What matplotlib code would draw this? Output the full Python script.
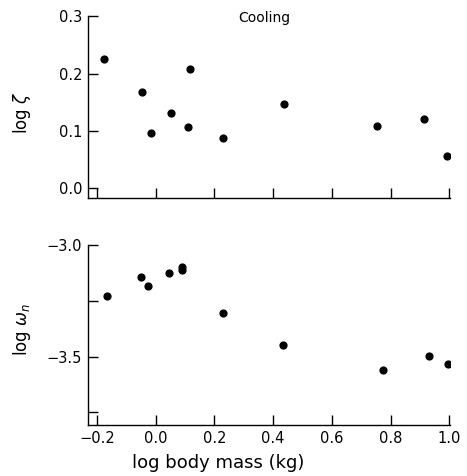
import matplotlib
matplotlib.use("Agg")
import matplotlib.pyplot as plt
from matplotlib.ticker import FixedLocator

# Data
mass_top = [-0.177, -0.048, -0.015, 0.053, 0.111, 0.116, 0.231, 0.438, 0.754, 0.915, 0.993]
log_zeta = [0.226, 0.168, 0.096, 0.131, 0.106, 0.208, 0.087, 0.147, 0.108, 0.120, 0.056]

mass_bot = [-0.166, -0.049, -0.027, 0.045, 0.089, 0.091, 0.228, 0.435, 0.775, 0.930, 0.994]
log_omega = [-3.230, -3.142, -3.184, -3.124, -3.097, -3.112, -3.306, -3.450, -3.562, -3.499, -3.532]

x_ticks = [-0.2, 0.0, 0.2, 0.4, 0.6, 0.8, 1.0]
x_labels = ["\u22120.2", "0.0", "0.2", "0.4", "0.6", "0.8", "1.0"]
top_yticks = [0.0, 0.1, 0.2, 0.3]
top_ylabels = ["0.0", "0.1", "0.2", "0.3"]
bot_yticks = [-3.5, -3.0]
bot_ylabels = ["\u22123.5", "\u22123.0"]
bot_minor = [-3.75, -3.25]

plt.rcParams['font.family'] = ['DejaVu Sans']
fig = plt.figure(figsize=(4.67, 4.76), dpi=100)

ax1 = fig.add_axes([0.188, 0.584, 0.776, 0.382])
ax2 = fig.add_axes([0.188, 0.107, 0.776, 0.378])

for ax in (ax1, ax2):
    ax.spines['top'].set_visible(False)
    ax.spines['right'].set_visible(False)
    ax.spines['left'].set_linewidth(1.0)
    ax.spines['bottom'].set_linewidth(1.0)
    ax.set_xlim(-0.231, 1.003)
    ax.xaxis.set_major_locator(FixedLocator(x_ticks))
    ax.tick_params(direction='in', length=7, width=1.0, labelsize=10.5, pad=4)
    ax.tick_params(which='minor', direction='in', length=7, width=1.0)

ax1.scatter(mass_top, log_zeta, s=24, color='black', zorder=3)
ax1.set_ylim(-0.017, 0.3)
ax1.set_yticks(top_yticks)
ax1.set_yticklabels(top_ylabels)
ax1.set_xticklabels([])
ax1.set_ylabel(r"log $\zeta$", fontsize=12)
ax1.yaxis.set_label_coords(-0.15, 0.47)
ax1.text(0.37, 0.297, "Cooling", fontsize=10, ha='center', va='center')

ax2.scatter(mass_bot, log_omega, s=24, color='black', zorder=3)
ax2.set_ylim(-3.807, -3.0)
ax2.set_yticks(bot_yticks)
ax2.set_yticklabels(bot_ylabels)
ax2.yaxis.set_minor_locator(FixedLocator(bot_minor))
ax2.set_xticklabels(x_labels)
ax2.set_ylabel(r"log $\omega_n$", fontsize=12)
ax2.yaxis.set_label_coords(-0.15, 0.53)
ax2.set_xlabel("log body mass (kg)", fontsize=13)
ax2.xaxis.set_label_coords(0.36, -0.16)

fig.savefig("out.png", dpi=100)
